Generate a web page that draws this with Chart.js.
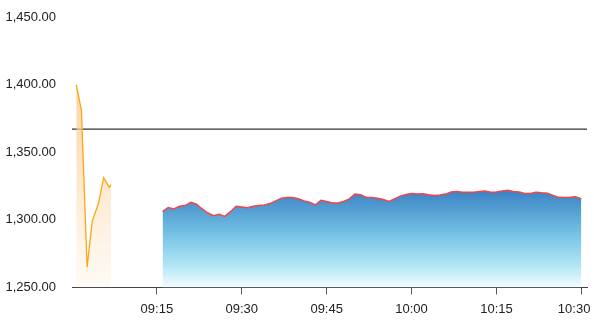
<!DOCTYPE html>
<html>
<head>
<meta charset="utf-8">
<script src="https://cdn.jsdelivr.net/npm/chart.js@4"></script>
<style>
    html, body { margin: 0; padding: 0; background: #fff; }
    #wrap { width: 594px; height: 327px; }
</style>
</head>
<body>
<div id="wrap"><canvas id="price-chart"></canvas></div>
<script>
// pre-open trades (orange)
const preTimes = ['09:00:45', '09:01:40', '09:02:40', '09:03:35', '09:04:40', '09:05:35', '09:06:35', '09:06:55'];
const preValues = [1400, 1381, 1265, 1299, 1312, 1331, 1324, 1326];

// regular session, one point per minute from 09:16 to 10:30
const sessionStart = '09:16';
const sessionValues = [
    1306, 1309, 1308, 1310, 1310.5, 1313, 1311.5, 1308, 1305, 1303,
    1304, 1302.5, 1306, 1310, 1309.5, 1309, 1310, 1310.5, 1311, 1312,
    1314, 1316, 1316.5, 1316.5, 1315.5, 1314, 1313, 1311, 1314.5, 1313.5,
    1312.5, 1312.5, 1313.5, 1315.5, 1319, 1318.5, 1316.5, 1316.5, 1316, 1315,
    1313.5, 1315.5, 1317.5, 1318.7, 1319.4, 1319, 1319.2, 1318.5, 1318, 1318.3,
    1319, 1320.5, 1321, 1320.4, 1320.4, 1320.4, 1321, 1321.3, 1320.4, 1320.6,
    1321.3, 1321.8, 1321, 1320.5, 1319.5, 1319.5, 1320.4, 1320, 1319.7, 1318,
    1316.6, 1316.5, 1316.7, 1317, 1315.5
];

const previousClose = 1367;
const axisStart = '09:00';
const axisEnd = '10:31';
const timeTicks = ['09:15', '09:30', '09:45', '10:00', '10:15', '10:30'];
const priceTicks = [1250, 1300, 1350, 1400, 1450];

function toMinutes(t) {
    const p = t.split(':').map(Number);
    return p[0] * 60 + p[1] + (p[2] || 0) / 60;
}

function fmtTime(m) {
    const h = Math.floor(m / 60);
    const mm = Math.round(m - h * 60);
    return String(h).padStart(2, '0') + ':' + String(mm).padStart(2, '0');
}

const prePoints = preTimes.map((t, i) => ({ x: toMinutes(t), y: preValues[i] }));
const startMin = toMinutes(sessionStart);
const sessionPoints = sessionValues.map((v, i) => ({ x: startMin + i, y: v }));
const xMin = toMinutes(axisStart);
const xMax = toMinutes(axisEnd);
const lastTick = toMinutes(timeTicks[timeTicks.length - 1]);

function vGradient(ctx, topValue, stops) {
    const chart = ctx.chart;
    const area = chart.chartArea;
    if (!area) return stops[0][1];
    const yTop = chart.scales.y.getPixelForValue(topValue);
    const g = chart.ctx.createLinearGradient(0, yTop, 0, area.bottom);
    stops.forEach(s => g.addColorStop(s[0], s[1]));
    return g;
}

new Chart(document.getElementById('price-chart'), {
    type: 'line',
    data: {
        datasets: [
            {
                data: prePoints,
                borderColor: '#ffa514',
                borderWidth: 1.3,
                pointRadius: 0,
                tension: 0,
                fill: 'start',
                order: 1,
                backgroundColor: ctx => vGradient(ctx, Math.max(...preValues), [
                    [0, 'rgba(251, 200, 140, 0.8)'],
                    [0.5, 'rgba(252, 218, 175, 0.6)'],
                    [1, 'rgba(255, 240, 225, 0.35)']
                ])
            },
            {
                data: sessionPoints,
                borderColor: '#f0454b',
                borderWidth: 1.5,
                pointRadius: 0,
                tension: 0,
                fill: 'start',
                order: 2,
                backgroundColor: ctx => vGradient(ctx, Math.max(...sessionValues), [
                    [0, '#3a82c4'],
                    [0.45, '#74c2e4'],
                    [0.8, '#b8e9f5'],
                    [1, '#f2fcff']
                ])
            },
            {
                data: [{ x: xMin, y: previousClose }, { x: xMax, y: previousClose }],
                borderColor: '#333',
                borderWidth: 1.2,
                pointRadius: 0,
                fill: false,
                order: 3
            }
        ]
    },
    options: {
        responsive: true,
        maintainAspectRatio: false,
        animation: false,
        layout: { padding: { top: 17, right: 7, bottom: 3, left: 4 } },
        plugins: {
            legend: { display: false },
            tooltip: { enabled: false }
        },
        scales: {
            x: {
                type: 'linear',
                min: xMin,
                max: xMax,
                afterBuildTicks: scale => {
                    scale.ticks = timeTicks.map(t => ({ value: toMinutes(t) }));
                },
                afterFit: scale => { scale.paddingRight = 0; },
                border: { display: true, color: '#444', width: 1 },
                grid: {
                    drawOnChartArea: false,
                    drawTicks: true,
                    tickLength: 7,
                    color: '#555'
                },
                ticks: {
                    padding: 7,
                    maxRotation: 0,
                    color: '#222',
                    font: { family: 'Liberation Sans, Arial, sans-serif', size: 13 },
                    // last label pushed left so it stays inside the canvas
                    callback: v => fmtTime(v) + (v === lastTick ? '    ' : '')
                }
            },
            y: {
                min: 1250,
                max: 1450,
                afterBuildTicks: scale => {
                    scale.ticks = priceTicks.map(v => ({ value: v }));
                },
                afterFit: scale => {
                    scale.width = 68;
                    scale.paddingTop = 0;
                },
                border: { display: false },
                grid: { display: false, drawTicks: false },
                ticks: {
                    padding: 16,
                    color: '#222',
                    font: { family: 'Liberation Sans, Arial, sans-serif', size: 13 },
                    callback: v => v.toLocaleString('en-US', { minimumFractionDigits: 2, maximumFractionDigits: 2 })
                }
            }
        }
    }
});
</script>
</body>
</html>
